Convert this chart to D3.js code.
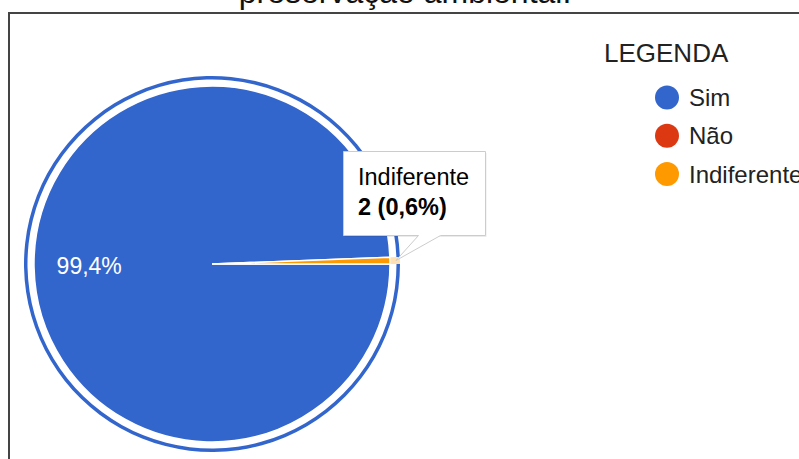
<!DOCTYPE html>
<html>
<head>
<meta charset="utf-8">
<script src="https://cdn.jsdelivr.net/npm/d3@7"></script>
<style>
    html, body { margin:0; padding:0; background:#fff; }
    svg { display:block; font-family: Arial, "Liberation Sans", sans-serif; }
</style>
</head>
<body>
<div id="chart"></div>
<script>
var titleLine = "preservação ambiental.";
var legendTitle = "LEGENDA";
var categories = ["Sim", "Não", "Indiferente"];
var counts = [331, 0, 2];
var hovered = "Indiferente";
var selected = "Sim";

var width = 799,
    height = 459,
    center = { x:212, y:264 },
    radius = 178;

function translate(xDelta, yDelta){
    return "translate(" + xDelta + "," + yDelta + ")"
}

var total = d3.sum(counts);
var data = categories.map(function(c, i){ return { name:c, value:counts[i] }; });

var colorScale = d3.scaleOrdinal()
    .domain(categories)
    .range(["#3366cc", "#dc3912", "#ff9900"]);

var pctFormat = function(v){
    return d3.format(".1f")(v * 100).replace(".", ",") + "%";
};

var svg = d3.select("#chart")
    .append("svg")
    .attr("width", width)
    .attr("height", height);

// title (only its last line is in view)
svg.append("text")
    .attr("x", 405)
    .attr("y", 3)
    .attr("text-anchor", "middle")
    .attr("font-size", 32)
    .attr("fill", "#111")
    .text(titleLine);

// chart frame
svg.append("path")
    .attr("d", "M9,470 V13 H810")
    .attr("fill", "none")
    .attr("stroke", "#444")
    .attr("stroke-width", 2);

var pie = d3.pie()
    .sort(null)
    .value(function(d){ return d.value; })
    .startAngle(Math.PI / 2)
    .endAngle(Math.PI / 2 + 2 * Math.PI);

var arcs = pie(data);

var arc = d3.arc().innerRadius(0).outerRadius(radius);
var labelArc = d3.arc().innerRadius(radius * 0.38).outerRadius(radius);
var ringArc = d3.arc().innerRadius(radius + 6.5).outerRadius(radius + 10);
var hoverArc = d3.arc().innerRadius(radius + 0.5).outerRadius(radius + 10);

var g = svg.append("g")
    .attr("transform", translate(center.x, center.y));

g.selectAll(".slice")
    .data(arcs.filter(function(d){ return d.value > 0; }))
    .enter().append("path")
    .attr("class", "slice")
    .attr("d", arc)
    .attr("fill", function(d){ return colorScale(d.data.name); })
    .attr("stroke", "#fff")
    .attr("stroke-width", 1.5);

// selection ring
g.selectAll(".ring")
    .data(arcs.filter(function(d){ return d.data.name == selected; }))
    .enter().append("path")
    .attr("class", "ring")
    .attr("d", ringArc)
    .attr("fill", function(d){ return colorScale(d.data.name); });

// hover ring
g.selectAll(".hover")
    .data(arcs.filter(function(d){ return d.data.name == hovered; }))
    .enter().append("path")
    .attr("class", "hover")
    .attr("d", hoverArc)
    .attr("fill", function(d){ return colorScale(d.data.name); })
    .attr("fill-opacity", 0.3);

// slice labels
g.selectAll(".label")
    .data(arcs.filter(function(d){ return d.value / total > 0.05; }))
    .enter().append("text")
    .attr("class", "label")
    .attr("transform", function(d){
        var c = labelArc.centroid(d);
        return translate(c[0], c[1]);
    })
    .attr("dy", "0.35em")
    .attr("text-anchor", "middle")
    .attr("font-size", 23)
    .attr("fill", "#fff")
    .text(function(d){ return pctFormat(d.value / total); });

// legend
var legend = svg.append("g")
    .attr("transform", translate(604, 0));

legend.append("text")
    .attr("x", 0)
    .attr("y", 62)
    .attr("font-size", 26)
    .attr("fill", "#222")
    .text(legendTitle);

var item = legend.selectAll(".item")
    .data(categories)
    .enter().append("g")
    .attr("class", "item")
    .attr("transform", function(d, i){ return translate(63, 97.5 + i * 38.2); });

item.append("circle")
    .attr("r", 12)
    .attr("fill", colorScale);

item.append("text")
    .attr("x", 22)
    .attr("dy", "0.36em")
    .attr("font-size", 24)
    .attr("fill", "#222")
    .text(function(d){ return d; });

// tooltip for the hovered slice
var hov = arcs.filter(function(d){ return d.data.name == hovered; })[0];
var tip = d3.arc().innerRadius(radius + 6).outerRadius(radius + 6).centroid(hov);
var tipX = center.x + tip[0], tipY = center.y + tip[1];
var box = { x:343.5, y:151.5, w:142, h:84 };

var tooltip = svg.append("g").attr("class", "tooltip");

tooltip.append("rect")
    .attr("x", box.x + 1)
    .attr("y", box.y + 1.5)
    .attr("width", box.w)
    .attr("height", box.h)
    .attr("fill", "#000")
    .attr("fill-opacity", 0.08);

tooltip.append("path")
    .attr("d", "M" + box.x + "," + box.y +
        " H" + (box.x + box.w) +
        " V" + (box.y + box.h) +
        " H" + (box.x + 97) +
        " L" + tipX + "," + tipY +
        " L" + (box.x + 75) + "," + (box.y + box.h) +
        " H" + box.x + " Z")
    .attr("fill", "#fff")
    .attr("stroke", "#ccc")
    .attr("stroke-width", 1);

tooltip.append("text")
    .attr("x", box.x + 14.5)
    .attr("y", 184.5)
    .attr("font-size", 23.5)
    .attr("fill", "#000")
    .text(hov.data.name);

tooltip.append("text")
    .attr("x", box.x + 14.5)
    .attr("y", 215)
    .attr("font-size", 23.5)
    .attr("font-weight", "bold")
    .attr("fill", "#000")
    .text(hov.value + " (" + pctFormat(hov.value / total) + ")");
</script>
</body>
</html>
